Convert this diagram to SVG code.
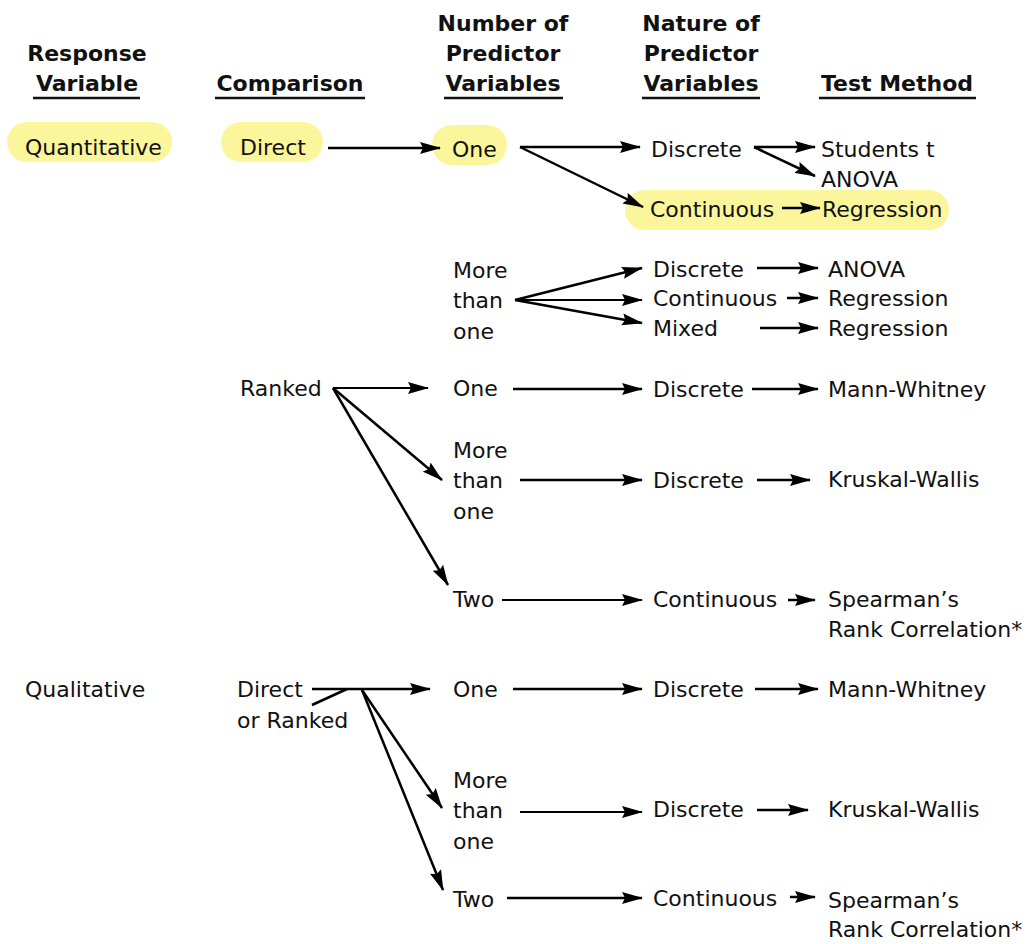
<svg xmlns="http://www.w3.org/2000/svg" width="1032" height="944" viewBox="0 0 1032 944">
<defs>
<style>
text{font-family:"DejaVu Sans","Verdana",sans-serif;font-size:22px;fill:#111}
.h{font-weight:bold;font-size:22px;text-anchor:middle}
.ul{stroke:#111;stroke-width:2.5}
.pill{fill:#fbf69c}
.c line{stroke:#000;stroke-width:2.5;fill:none}
.c line.t{stroke-width:1.8}
</style>
<marker id="ah" markerWidth="21" markerHeight="13" refX="20" refY="6.5" orient="auto" markerUnits="userSpaceOnUse">
<path d="M0,0.5 L21,6.5 L0,12.5 L3,6.5 z" fill="#000"/>
</marker>
</defs>
<rect width="1032" height="944" fill="#fff"/>

<g id="headers">
<text class="h" x="87" y="61">Response</text>
<text class="h" x="87" y="91">Variable</text>
<line class="ul" x1="33" y1="98" x2="140" y2="98"/>
<text class="h" x="290" y="91">Comparison</text>
<line class="ul" x1="215" y1="98" x2="365" y2="98"/>
<text class="h" x="503" y="31">Number of</text>
<text class="h" x="503" y="61">Predictor</text>
<text class="h" x="503" y="91">Variables</text>
<line class="ul" x1="444" y1="98" x2="563" y2="98"/>
<text class="h" x="701" y="31">Nature of</text>
<text class="h" x="701" y="61">Predictor</text>
<text class="h" x="701" y="91">Variables</text>
<line class="ul" x1="642" y1="98" x2="760" y2="98"/>
<text class="h" x="897" y="91">Test Method</text>
<line class="ul" x1="819" y1="98" x2="976" y2="98"/>
</g>

<g id="highlights">
<rect class="pill" x="7" y="122" width="165" height="40" rx="20"/>
<rect class="pill" x="221" y="122" width="102" height="40" rx="20"/>
<rect class="pill" x="432" y="125" width="75" height="40" rx="20"/>
<rect class="pill" x="625" y="190" width="324" height="40" rx="20"/>
</g>

<g class="c" id="connectors">
<line x1="328" y1="148" x2="440" y2="148" marker-end="url(#ah)"/>
<line x1="520" y1="147" x2="640" y2="147" marker-end="url(#ah)"/>
<line x1="520" y1="147" x2="643" y2="207" marker-end="url(#ah)"/>
<line x1="754" y1="147" x2="815" y2="147" marker-end="url(#ah)"/>
<line x1="754" y1="147" x2="815" y2="176" marker-end="url(#ah)"/>
<line x1="782" y1="208" x2="820" y2="208" marker-end="url(#ah)"/>

<line x1="515" y1="300" x2="642" y2="268" marker-end="url(#ah)"/>
<line class="t" x1="515" y1="300" x2="642" y2="300" marker-end="url(#ah)"/>
<line x1="515" y1="300" x2="642" y2="323" marker-end="url(#ah)"/>
<line x1="757" y1="268" x2="818" y2="268" marker-end="url(#ah)"/>
<line x1="787" y1="298" x2="818" y2="298" marker-end="url(#ah)"/>
<line x1="760" y1="328" x2="818" y2="328" marker-end="url(#ah)"/>

<line class="t" x1="333" y1="388" x2="428" y2="388" marker-end="url(#ah)"/>
<line x1="513" y1="389" x2="642" y2="389" marker-end="url(#ah)"/>
<line x1="752" y1="389" x2="818" y2="389" marker-end="url(#ah)"/>
<line x1="333" y1="388" x2="442" y2="480" marker-end="url(#ah)"/>
<line x1="333" y1="388" x2="448" y2="585" marker-end="url(#ah)"/>
<line x1="520" y1="480" x2="642" y2="480" marker-end="url(#ah)"/>
<line x1="757" y1="480" x2="810" y2="480" marker-end="url(#ah)"/>
<line class="t" x1="502" y1="600" x2="642" y2="600" marker-end="url(#ah)"/>
<line x1="788" y1="600" x2="815" y2="600" marker-end="url(#ah)"/>

<line x1="312" y1="689" x2="430" y2="689" marker-end="url(#ah)"/>
<line x1="312" y1="705" x2="347" y2="689"/>
<line x1="362" y1="690" x2="442" y2="808" marker-end="url(#ah)"/>
<line x1="362" y1="690" x2="443" y2="890" marker-end="url(#ah)"/>
<line x1="513" y1="689" x2="642" y2="689" marker-end="url(#ah)"/>
<line x1="755" y1="689" x2="818" y2="689" marker-end="url(#ah)"/>
<line class="t" x1="520" y1="812" x2="642" y2="812" marker-end="url(#ah)"/>
<line x1="757" y1="810" x2="808" y2="810" marker-end="url(#ah)"/>
<line x1="507" y1="898" x2="642" y2="898" marker-end="url(#ah)"/>
<line x1="790" y1="897" x2="815" y2="897" marker-end="url(#ah)"/>
</g>

<g id="n-quantitative"><text x="25" y="155">Quantitative</text></g>
<g id="n-direct"><text x="240" y="155">Direct</text></g>
<g id="n-one1"><text x="452" y="157">One</text></g>
<g id="n-discrete1"><text x="651" y="157">Discrete</text></g>
<g id="n-students"><text x="821" y="157">Students t</text></g>
<g id="n-anova1"><text x="821" y="187">ANOVA</text></g>
<g id="n-continuous1"><text x="650" y="217">Continuous</text></g>
<g id="n-regression1"><text x="822" y="217">Regression</text></g>

<g id="n-more1"><text x="453" y="278">More</text><text x="453" y="308">than</text><text x="453" y="339">one</text></g>
<g id="n-discrete2"><text x="653" y="277">Discrete</text></g>
<g id="n-continuous2"><text x="653" y="306">Continuous</text></g>
<g id="n-mixed"><text x="653" y="336">Mixed</text></g>
<g id="n-anova2"><text x="828" y="277">ANOVA</text></g>
<g id="n-regression2"><text x="828" y="306">Regression</text></g>
<g id="n-regression3"><text x="828" y="336">Regression</text></g>

<g id="n-ranked"><text x="240" y="396">Ranked</text></g>
<g id="n-one2"><text x="453" y="396">One</text></g>
<g id="n-discrete3"><text x="653" y="397">Discrete</text></g>
<g id="n-mann1"><text x="828" y="397">Mann-Whitney</text></g>
<g id="n-more2"><text x="453" y="458">More</text><text x="453" y="488">than</text><text x="453" y="519">one</text></g>
<g id="n-discrete4"><text x="653" y="488">Discrete</text></g>
<g id="n-kruskal1"><text x="828" y="487">Kruskal-Wallis</text></g>
<g id="n-two1"><text x="453" y="607">Two</text></g>
<g id="n-continuous3"><text x="653" y="607">Continuous</text></g>
<g id="n-spearman1"><text x="828" y="607">Spearman’s</text><text x="828" y="637">Rank Correlation*</text></g>

<g id="n-qualitative"><text x="25" y="697">Qualitative</text></g>
<g id="n-directranked"><text x="237" y="697">Direct</text><text x="237" y="728">or Ranked</text></g>
<g id="n-one3"><text x="453" y="697">One</text></g>
<g id="n-discrete5"><text x="653" y="697">Discrete</text></g>
<g id="n-mann2"><text x="828" y="697">Mann-Whitney</text></g>
<g id="n-more3"><text x="453" y="788">More</text><text x="453" y="818">than</text><text x="453" y="849">one</text></g>
<g id="n-discrete6"><text x="653" y="817">Discrete</text></g>
<g id="n-kruskal2"><text x="828" y="817">Kruskal-Wallis</text></g>
<g id="n-two2"><text x="453" y="907">Two</text></g>
<g id="n-continuous4"><text x="653" y="906">Continuous</text></g>
<g id="n-spearman2"><text x="828" y="908">Spearman’s</text><text x="828" y="937">Rank Correlation*</text></g>
</svg>
